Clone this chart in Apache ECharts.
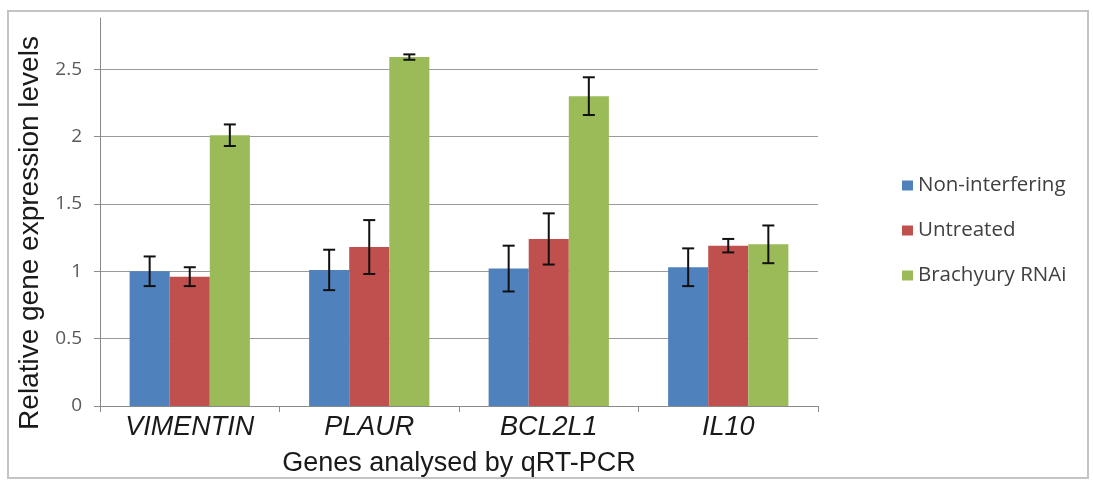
<!DOCTYPE html>
<html>
<head>
<meta charset="utf-8">
<script src="https://cdn.jsdelivr.net/npm/echarts@6/dist/echarts.min.js"></script>
<style>
html,body{margin:0;padding:0;background:#fff;}
#c{width:1093px;height:482px;}
</style>
</head>
<body>
<div id="c"></div>
<script>
const genes = ['VIMENTIN', 'PLAUR', 'BCL2L1', 'IL10'];
const seriesNames = ['Non-interfering', 'Untreated', 'Brachyury RNAi'];
const nonInterfering = [1.00, 1.01, 1.02, 1.03];
const nonInterferingErr = [0.11, 0.15, 0.17, 0.14];
const untreated = [0.96, 1.18, 1.24, 1.19];
const untreatedErr = [0.07, 0.20, 0.19, 0.05];
const brachyury = [2.01, 2.59, 2.30, 1.20];
const brachyuryErr = [0.08, 0.02, 0.14, 0.14];
const yTicks = [0, 0.5, 1, 1.5, 2, 2.5];
const yTickLabels = ['0', '0.5', '1', '1.5', '2', '2.5'];

const colors = ['#4F81BD', '#C0504D', '#9BBB59'];
const GAP = 0.33;
const values = [nonInterfering, untreated, brachyury];
const errs = [nonInterferingErr, untreatedErr, brachyuryErr];

function makeErr(idx) {
  return function (params, api) {
    const x = api.value(0), v = api.value(1), e = api.value(2);
    const band = api.size([1, 0])[0];
    const bw = band * (1 - GAP) / 3;
    const off = (idx - 1) * bw;
    const top = api.coord([x, v + e]);
    const bot = api.coord([x, v - e]);
    const cx = top[0] + off;
    const cap = 6;
    const st = { stroke: '#111', lineWidth: 2 };
    return {
      type: 'group',
      children: [
        { type: 'line', shape: { x1: cx, y1: top[1], x2: cx, y2: bot[1] }, style: st },
        { type: 'line', shape: { x1: cx - cap, y1: top[1], x2: cx + cap, y2: top[1] }, style: st },
        { type: 'line', shape: { x1: cx - cap, y1: bot[1], x2: cx + cap, y2: bot[1] }, style: st }
      ]
    };
  };
}

const series = [];
seriesNames.forEach((n, i) => {
  series.push({
    name: n, type: 'bar', data: values[i],
    barGap: 0, barCategoryGap: (GAP * 100) + '%',
    itemStyle: { color: colors[i] }
  });
});
seriesNames.forEach((n, i) => {
  series.push({
    type: 'custom', name: n + ' err', z: 5,
    renderItem: makeErr(i),
    data: genes.map((g, k) => [k, values[i][k], errs[i][k]])
  });
});

const chart = echarts.init(document.getElementById('c'), null, { renderer: 'canvas' });
chart.setOption({
  animation: false,
  backgroundColor: '#fff',
  graphic: [{
    type: 'rect', shape: { x: 8, y: 11, width: 1080, height: 467 },
    style: { fill: 'none', stroke: '#c4c4c4', lineWidth: 2 }, silent: true, z: -1
  }],
  grid: { left: 100, right: 275, top: 18, bottom: 75.5, containLabel: false },
  legend: {
    orient: 'vertical', left: 897, top: 170,
    data: seriesNames,
    icon: 'rect', itemWidth: 11, itemHeight: 10, itemGap: 24,
    textStyle: { fontFamily: 'Open Sans', fontSize: 20.5, color: '#404040', lineHeight: 20 }
  },
  xAxis: {
    type: 'category', data: genes,
    axisLine: { show: true, lineStyle: { color: '#8a8a8a', width: 1 } },
    axisTick: { show: true, length: 6, lineStyle: { color: '#8a8a8a' } },
    axisLabel: { fontFamily: 'Liberation Sans', fontStyle: 'italic', fontSize: 27, color: '#1a1a1a', margin: 8 },
    name: 'Genes analysed by qRT-PCR', nameLocation: 'middle', nameGap: 44,
    nameTextStyle: { fontFamily: 'Liberation Sans', fontSize: 27, color: '#1a1a1a' }
  },
  yAxis: {
    type: 'value', min: 0, max: 2.88, interval: 0.5,
    axisLine: { show: true, lineStyle: { color: '#8a8a8a', width: 1 } },
    axisTick: { show: true, length: 6, inside: false, customValues: yTicks, lineStyle: { color: '#8a8a8a' } },
    axisLabel: {
      customValues: yTicks,
      formatter: v => { const i = yTicks.indexOf(Math.round(v * 100) / 100); return i >= 0 ? yTickLabels[i] : ''; },
      fontFamily: 'Open Sans', fontSize: 19, color: '#595959', margin: 18
    },
    splitLine: { show: true, lineStyle: { color: ['#9a9a9a', '#9a9a9a', '#9a9a9a', '#9a9a9a', '#9a9a9a', '#9a9a9a', 'rgba(0,0,0,0)'], width: 1 } },
    name: 'Relative gene expression levels', nameLocation: 'middle', nameGap: 56,
    nameTextStyle: { fontFamily: 'Liberation Sans', fontSize: 28, color: '#1a1a1a', padding: [0, 42, 0, 0] }
  },
  series: series
});
</script>
</body>
</html>
